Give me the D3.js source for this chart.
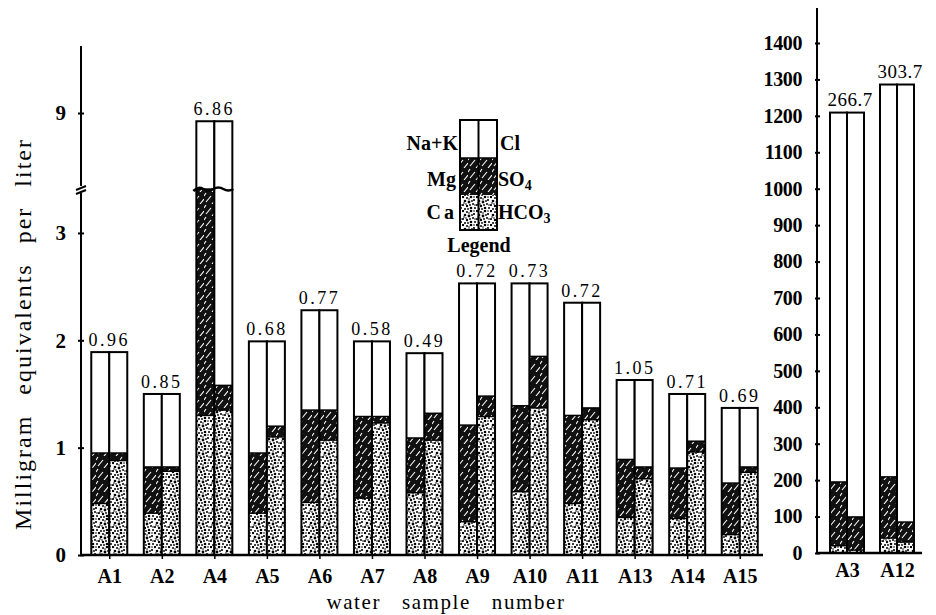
<!DOCTYPE html>
<html><head><meta charset="utf-8">
<script src="https://cdn.jsdelivr.net/npm/d3@7"></script>
<style>
body{margin:0;background:#fff}
svg{display:block}
text{font-family:"Liberation Serif","Times New Roman",serif;fill:#000}
</style>
</head><body>
<svg id="c" width="936" height="615"></svg>
<script>
// ---------------- data ----------------
const samplesLeft = ["A1","A2","A4","A5","A6","A7","A8","A9","A10","A11","A13","A14","A15"];
const ratioLeft   = ["0.96","0.85","6.86","0.68","0.77","0.58","0.49","0.72","0.73","0.72","1.05","0.71","0.69"];
// cations (meq/L)
const caLeft   = [0.48,0.39,1.30,0.39,0.49,0.53,0.58,0.31,0.59,0.48,0.35,0.34,0.19];
const mgLeft   = [0.47,0.43,4.30,0.56,0.86,0.76,0.51,0.90,0.80,0.82,0.54,0.47,0.48];
const nakLeft  = [0.94,0.68,3.29,1.04,0.93,0.70,0.79,1.32,1.14,1.05,0.74,0.69,0.70];
// anions (meq/L)
const hco3Left = [0.88,0.78,1.35,1.10,1.07,1.23,1.07,1.29,1.37,1.26,0.71,0.96,0.77];
const so4Left  = [0.07,0.04,0.23,0.10,0.28,0.06,0.25,0.19,0.48,0.11,0.11,0.10,0.05];
const clLeft   = [0.94,0.68,7.31,0.79,0.93,0.70,0.56,1.05,0.68,0.98,0.81,0.44,0.55];

const samplesRight = ["A3","A12"];
const ratioRight   = ["266.7","303.7"];
const caRight   = [20,41];
const mgRight   = [175,168];
const nakRight  = [1014,1077];
const hco3Right = [8,30];
const so4Right  = [91,55];
const clRight   = [1110,1201];

const ticksLeft  = [0,1,2,3,9];
const ticksRight = [0,100,200,300,400,500,600,700,800,900,1000,1100,1200,1300,1400];

// ---------------- setup ----------------
const svg = d3.select("#c");
const defs = svg.append("defs");

// stipple pattern (Ca / HCO3)
const stip = defs.append("pattern").attr("id","stip").attr("patternUnits","userSpaceOnUse")
  .attr("width",14).attr("height",14);
stip.append("rect").attr("width",14).attr("height",14).attr("fill","#fff");
const dotPos = [[1,1,1.2],[5,2,1],[9,1,1.3],[12,4,1.1],[3,5,1.3],[7,6,1.4],[11,8,1],[1,9,1.1],
  [5,10,1.2],[9,12,1.3],[13,12,1],[3,13,1],[8,9,0.9],[12,1,0.8],[6,13,0.9],[2,7,0.8],[10,5,0.9],
  [4,8,0.8],[13,9,0.8],[7,3,0.8]];
stip.selectAll("circle").data(dotPos).join("circle")
  .attr("cx",d=>d[0]).attr("cy",d=>d[1]).attr("r",d=>d[2]).attr("fill","#000");

// hatched pattern (Mg / SO4)
const hat = defs.append("pattern").attr("id","hat").attr("patternUnits","userSpaceOnUse")
  .attr("width",12).attr("height",12);
hat.append("rect").attr("width",12).attr("height",12).attr("fill","#111");
hat.append("path").attr("d","M2,10 L7,4 M8,12 L12,7 M0,4 L2,1")
  .attr("stroke","#fff").attr("stroke-width",1.1).attr("fill","none");

const fills = ["url(#stip)","url(#hat)","#fff"];

// ---------------- left panel ----------------
const xL = d3.scalePoint().domain(samplesLeft).range([83,766]).padding(0.5);
const yL = d3.scaleLinear().domain([0,3.4,8,9]).range([555,190,188,113]);
const bw = 18;

const rowsL = samplesLeft.map((s,i)=>({s, i, ca:caLeft[i], mg:mgLeft[i], nak:nakLeft[i],
  hco3:hco3Left[i], so4:so4Left[i], cl:clLeft[i]}));
const catL = d3.stack().keys(["ca","mg","nak"])(rowsL);
const anL  = d3.stack().keys(["hco3","so4","cl"])(rowsL);

function drawStack(g, series, xs, ys, offset, w){
  series.forEach((ser,k)=>{
    g.selectAll(null).data(ser).join("rect")
      .attr("x",d=>xs(d.data.s)+offset)
      .attr("width",w)
      .attr("y",d=>ys(d[1]))
      .attr("height",d=>Math.max(0,ys(d[0])-ys(d[1])))
      .attr("fill",fills[k]);
  });
  const tops = series[series.length-1];
  g.selectAll(null).data(tops).join("rect")
    .attr("x",d=>xs(d.data.s)+offset)
    .attr("width",w)
    .attr("y",d=>ys(d[1]))
    .attr("height",d=>ys(0)-ys(d[1]))
    .attr("fill","none").attr("stroke","#000").attr("stroke-width",2);
  series.slice(0,-1).forEach(ser=>{
    g.selectAll(null).data(ser).join("line")
      .attr("x1",d=>xs(d.data.s)+offset).attr("x2",d=>xs(d.data.s)+offset+w)
      .attr("y1",d=>ys(d[1])).attr("y2",d=>ys(d[1]))
      .attr("stroke","#000").attr("stroke-width",1.5);
  });
}

const gL = svg.append("g");
drawStack(gL, catL, xL, yL, -bw, bw);
drawStack(gL, anL, xL, yL, 0, bw);

// break squiggle on A4
{
  const c = xL("A4"), yb = yL(3.4)-1;
  gL.append("path")
    .attr("d",`M${c-bw-3},${yb+2} q5,-5 10,-2 t10,0 t10,0 t10,0`)
    .attr("fill","none").attr("stroke","#000").attr("stroke-width",2.5);
}

// ratio labels
gL.selectAll(null).data(rowsL).join("text")
  .attr("x",d=>xL(d.s)).attr("y",d=>yL(Math.max(d.ca+d.mg+d.nak,d.hco3+d.so4+d.cl))-6)
  .attr("text-anchor","middle").attr("font-size",18).attr("letter-spacing",2.5)
  .text(d=>ratioLeft[d.i]);

// left axis (with break)
gL.append("line").attr("x1",81).attr("x2",81).attr("y1",yL(0)).attr("y2",yL(3.4)+3)
  .attr("stroke","#000").attr("stroke-width",2);
gL.append("line").attr("x1",81).attr("x2",81).attr("y1",yL(8)-2).attr("y2",46)
  .attr("stroke","#000").attr("stroke-width",2);
gL.append("path").attr("d",`M76,${yL(3.4)+4} L86,${yL(3.4)} M76,${yL(3.4)} L86,${yL(3.4)-4}`)
  .attr("stroke","#000").attr("stroke-width",2);
const axL = d3.axisLeft(yL).tickValues(ticksLeft).tickSize(0).tickPadding(0).tickFormat(d3.format("d"));
const axLg = gL.append("g").attr("transform","translate(81,0)").call(axL);
axLg.select(".domain").remove();
axLg.selectAll(".tick line").attr("x1",-3).attr("x2",3).attr("stroke","#000").attr("stroke-width",2);
axLg.selectAll(".tick text").attr("x",-15).attr("font-size",21).attr("font-weight","bold")
  .attr("font-family","'Liberation Serif',serif").attr("fill","#000");

// left baseline
gL.append("line").attr("x1",80).attr("x2",763).attr("y1",yL(0)).attr("y2",yL(0))
  .attr("stroke","#000").attr("stroke-width",2.5);
const axBL = d3.axisBottom(xL).tickSize(4).tickPadding(6);
const axBLg = gL.append("g").attr("transform",`translate(0,${yL(0)})`).call(axBL);
axBLg.select(".domain").remove();
axBLg.selectAll(".tick line").attr("stroke","#000").attr("stroke-width",1.5);
axBLg.selectAll(".tick text").attr("font-size",20).attr("font-weight","bold")
  .attr("font-family","'Liberation Serif',serif").attr("fill","#000").attr("dy","0.9em");

// ---------------- right panel ----------------
const xR = d3.scalePoint().domain(samplesRight).range([822,922]).padding(0.5);
const yR = d3.scaleLinear().domain([0,1400]).range([553,43]);
const bwR = 17;
const rowsR = samplesRight.map((s,i)=>({s, i, ca:caRight[i], mg:mgRight[i], nak:nakRight[i],
  hco3:hco3Right[i], so4:so4Right[i], cl:clRight[i]}));
const catR = d3.stack().keys(["ca","mg","nak"])(rowsR);
const anR  = d3.stack().keys(["hco3","so4","cl"])(rowsR);
const gR = svg.append("g");
drawStack(gR, catR, xR, yR, -bwR, bwR);
drawStack(gR, anR, xR, yR, 0, bwR);

gR.selectAll(null).data(rowsR).join("text")
  .attr("x",d=>xR(d.s)+3).attr("y",d=>yR(Math.max(d.ca+d.mg+d.nak,d.hco3+d.so4+d.cl))-7)
  .attr("text-anchor","middle").attr("font-size",19).attr("letter-spacing",0.5)
  .text(d=>ratioRight[d.i]);

gR.append("line").attr("x1",817).attr("x2",817).attr("y1",yR(0)).attr("y2",8)
  .attr("stroke","#000").attr("stroke-width",2);
const axR = d3.axisLeft(yR).tickValues(ticksRight).tickSize(0).tickFormat(d3.format("d"));
const axRg = gR.append("g").attr("transform","translate(817,0)").call(axR);
axRg.select(".domain").remove();
axRg.selectAll(".tick line").attr("x1",-2).attr("x2",3).attr("stroke","#000").attr("stroke-width",2);
axRg.selectAll(".tick text").attr("x",-15).attr("font-size",20).attr("font-weight","bold")
  .attr("letter-spacing",-0.4)
  .attr("font-family","'Liberation Serif',serif").attr("fill","#000");

gR.append("line").attr("x1",816).attr("x2",922).attr("y1",yR(0)).attr("y2",yR(0))
  .attr("stroke","#000").attr("stroke-width",2.5);
const axBR = d3.axisBottom(xR).tickSize(0).tickPadding(6);
const axBRg = gR.append("g").attr("transform",`translate(0,${yR(0)})`).call(axBR);
axBRg.select(".domain").remove();
axBRg.selectAll(".tick text").attr("font-size",20).attr("font-weight","bold")
  .attr("font-family","'Liberation Serif',serif").attr("fill","#000").attr("dy","0.9em");

// ---------------- titles ----------------
svg.append("text").attr("transform","translate(31,334) rotate(-90)")
  .attr("text-anchor","middle").attr("font-size",24).attr("letter-spacing",2)
  .attr("word-spacing",12)
  .text("Milligram equivalents per liter");
svg.append("text").attr("x",446).attr("y",609)
  .attr("text-anchor","middle").attr("font-size",21).attr("letter-spacing",1.6)
  .attr("word-spacing",14)
  .text("water sample number");

// ---------------- legend ----------------
const lg = svg.append("g");
const lx = 460, lw = 18.5;
const lyb = [230,195,158,120];
[0,1,2].forEach(k=>{
  [0,1].forEach(j=>{
    lg.append("rect").attr("x",lx+j*lw).attr("y",lyb[k+1]).attr("width",lw)
      .attr("height",lyb[k]-lyb[k+1]).attr("fill",fills[k]);
  });
});
lg.append("rect").attr("x",lx).attr("y",120).attr("width",lw*2).attr("height",110)
  .attr("fill","none").attr("stroke","#000").attr("stroke-width",2);
lg.append("line").attr("x1",lx+lw).attr("x2",lx+lw).attr("y1",120).attr("y2",230)
  .attr("stroke","#000").attr("stroke-width",2);
lg.append("line").attr("x1",lx).attr("x2",lx+2*lw).attr("y1",158).attr("y2",158)
  .attr("stroke","#000").attr("stroke-width",1.5);
const lfs = 20;
lg.append("text").attr("x",458).attr("y",150).attr("text-anchor","end").attr("font-size",lfs).attr("font-weight","bold").text("Na+K");
lg.append("text").attr("x",456).attr("y",186).attr("text-anchor","end").attr("font-size",lfs).attr("font-weight","bold").text("Mg");
lg.append("text").attr("x",457).attr("y",219).attr("text-anchor","end").attr("font-size",lfs).attr("font-weight","bold").attr("letter-spacing",3).text("Ca");
lg.append("text").attr("x",500).attr("y",150).attr("font-size",lfs).attr("font-weight","bold").text("Cl");
const so = lg.append("text").attr("x",498).attr("y",186).attr("font-size",lfs).attr("font-weight","bold");
so.append("tspan").text("SO");
so.append("tspan").attr("font-size",14).attr("dy",4).text("4");
const hc = lg.append("text").attr("x",498).attr("y",219).attr("font-size",lfs).attr("font-weight","bold");
hc.append("tspan").text("HCO");
hc.append("tspan").attr("font-size",14).attr("dy",4).text("3");
lg.append("text").attr("x",479).attr("y",252).attr("text-anchor","middle").attr("font-size",lfs).attr("font-weight","bold").text("Legend");
</script>
</body></html>
